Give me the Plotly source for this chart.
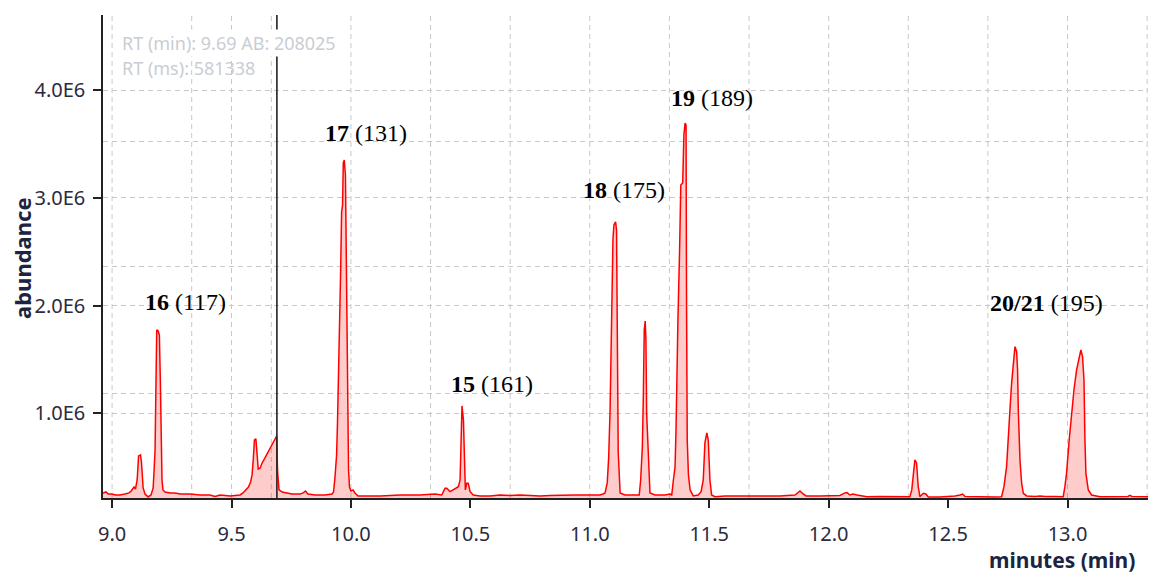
import plotly.graph_objects as go

# Total ion chromatogram trace: retention time (min) and abundance (x 1e6 counts)
rt_min = [
    8.962, 8.975, 8.983, 9.000, 9.013, 9.033, 9.054, 9.071, 9.080, 9.088,
    9.092, 9.098, 9.105, 9.111, 9.119, 9.123, 9.126, 9.130, 9.138, 9.151,
    9.163, 9.172, 9.176, 9.180, 9.184, 9.187, 9.193, 9.198, 9.202, 9.206,
    9.209, 9.213, 9.222, 9.243, 9.264, 9.285, 9.327, 9.368, 9.410, 9.431,
    9.452, 9.494, 9.536, 9.548, 9.561, 9.571, 9.580, 9.586, 9.591, 9.596,
    9.602, 9.606, 9.612, 9.620, 9.628, 9.640, 9.653, 9.666, 9.678, 9.689,
    9.693, 9.699, 9.712, 9.728, 9.753, 9.787, 9.800, 9.810, 9.820, 9.850,
    9.892, 9.921, 9.927, 9.933, 9.940, 9.944, 9.948, 9.952, 9.957, 9.961,
    9.965, 9.968, 9.972, 9.977, 9.980, 9.984, 9.987, 9.990, 9.994, 10.000,
    10.009, 10.017, 10.030, 10.122, 10.206, 10.289, 10.352, 10.380, 10.394, 10.401,
    10.415, 10.427, 10.436, 10.450, 10.457, 10.461, 10.465, 10.471, 10.475, 10.479,
    10.485, 10.491, 10.499, 10.512, 10.540, 10.582, 10.624, 10.666, 10.708, 10.750,
    10.792, 10.833, 10.875, 10.938, 11.001, 11.043, 11.055, 11.064, 11.073, 11.079,
    11.085, 11.089, 11.093, 11.097, 11.101, 11.108, 11.112, 11.115, 11.119, 11.127,
    11.147, 11.168, 11.198, 11.207, 11.213, 11.220, 11.224, 11.228, 11.232, 11.235,
    11.238, 11.245, 11.252, 11.273, 11.315, 11.336, 11.343, 11.350, 11.357, 11.361,
    11.364, 11.369, 11.376, 11.381, 11.389, 11.394, 11.399, 11.403, 11.405, 11.408,
    11.413, 11.420, 11.433, 11.454, 11.466, 11.475, 11.482, 11.490, 11.496, 11.503,
    11.510, 11.524, 11.566, 11.629, 11.713, 11.796, 11.859, 11.872, 11.880, 11.888,
    11.905, 11.964, 12.047, 12.068, 12.077, 12.089, 12.102, 12.119, 12.160, 12.215,
    12.299, 12.340, 12.348, 12.354, 12.361, 12.368, 12.375, 12.382, 12.396, 12.407,
    12.417, 12.466, 12.508, 12.529, 12.550, 12.561, 12.571, 12.634, 12.696, 12.724,
    12.734, 12.745, 12.752, 12.759, 12.766, 12.773, 12.780, 12.787, 12.791, 12.794,
    12.801, 12.808, 12.815, 12.829, 12.864, 12.885, 12.906, 12.947, 12.982, 12.989,
    12.996, 13.007, 13.017, 13.027, 13.038, 13.049, 13.056, 13.063, 13.069, 13.073,
    13.077, 13.087, 13.101, 13.136, 13.199, 13.253, 13.261, 13.270, 13.337,
]
abundance_e6 = [
    0.262, 0.271, 0.252, 0.252, 0.243, 0.243, 0.252, 0.262, 0.280, 0.308,
    0.317, 0.299, 0.382, 0.605, 0.614, 0.549, 0.429, 0.308, 0.252, 0.225,
    0.243, 0.308, 0.475, 0.661, 1.310, 1.774, 1.765, 1.727, 1.310, 0.753,
    0.382, 0.290, 0.271, 0.262, 0.262, 0.252, 0.252, 0.243, 0.243, 0.229,
    0.243, 0.234, 0.243, 0.262, 0.290, 0.317, 0.364, 0.429, 0.568, 0.753,
    0.763, 0.614, 0.484, 0.494, 0.540, 0.587, 0.642, 0.698, 0.753, 0.790,
    0.457, 0.290, 0.271, 0.262, 0.252, 0.252, 0.262, 0.280, 0.252, 0.243,
    0.243, 0.252, 0.271, 0.401, 0.614, 0.939, 1.310, 1.774, 2.330, 2.868,
    2.933, 3.323, 3.351, 3.212, 2.423, 1.495, 0.753, 0.475, 0.317, 0.280,
    0.290, 0.262, 0.234, 0.234, 0.243, 0.243, 0.252, 0.243, 0.305, 0.305,
    0.274, 0.290, 0.305, 0.320, 0.382, 0.753, 1.069, 0.939, 0.540, 0.290,
    0.352, 0.352, 0.274, 0.243, 0.234, 0.234, 0.243, 0.239, 0.243, 0.239,
    0.234, 0.239, 0.243, 0.243, 0.243, 0.243, 0.252, 0.262, 0.355, 0.587,
    1.032, 1.681, 2.238, 2.609, 2.748, 2.776, 2.701, 1.774, 0.642, 0.262,
    0.243, 0.243, 0.243, 0.243, 0.382, 0.688, 1.124, 1.774, 1.857, 1.681,
    1.004, 0.568, 0.262, 0.243, 0.243, 0.252, 0.243, 0.382, 0.503, 0.846,
    1.310, 1.867, 2.516, 3.119, 3.137, 3.583, 3.694, 3.675, 2.052, 0.753,
    0.429, 0.290, 0.234, 0.243, 0.274, 0.382, 0.726, 0.818, 0.753, 0.382,
    0.243, 0.227, 0.234, 0.234, 0.234, 0.234, 0.243, 0.271, 0.280, 0.262,
    0.234, 0.234, 0.239, 0.262, 0.265, 0.243, 0.252, 0.243, 0.227, 0.229,
    0.229, 0.227, 0.290, 0.429, 0.568, 0.540, 0.320, 0.227, 0.259, 0.252,
    0.225, 0.225, 0.229, 0.234, 0.243, 0.252, 0.229, 0.225, 0.225, 0.227,
    0.320, 0.506, 0.816, 1.032, 1.279, 1.495, 1.619, 1.572, 1.403, 1.032,
    0.568, 0.352, 0.259, 0.234, 0.229, 0.234, 0.229, 0.229, 0.227, 0.320,
    0.444, 0.753, 1.001, 1.217, 1.403, 1.526, 1.588, 1.526, 1.310, 0.753,
    0.444, 0.290, 0.243, 0.227, 0.227, 0.229, 0.239, 0.229, 0.227,
]
abundance = [v * 1e6 for v in abundance_e6]

# Peak identification labels (compound number, base ion m/z) and where they sit
peak_ids = ["16", "17", "15", "18", "19", "20/21"]
peak_mz = ["117", "131", "161", "175", "189", "195"]
label_rt = [9.308, 10.063, 10.589, 11.143, 11.510, 12.911]
label_abund = [2.033e6, 3.598e6, 1.273e6, 3.072e6, 3.923e6, 2.021e6]

# Cursor readout
cursor_rt = 9.69
cursor_ab = 208025
cursor_ms = 581338

# Axes
x_range = [8.962, 13.337]
y_range = [0.215e6, 4.696e6]
x_tick_vals = [9.0, 9.5, 10.0, 10.5, 11.0, 11.5, 12.0, 12.5, 13.0]
x_tick_text = ["9.0", "9.5", "10.0", "10.5", "11.0", "11.5", "12.0", "12.5", "13.0"]
y_tick_vals = [1e6, 2e6, 3e6, 4e6]
y_tick_text = ["1.0E6", "2.0E6", "3.0E6", "4.0E6"]
x_grid_vals = [9.0, 9.3333, 9.5, 9.6667, 10.0, 10.3333, 10.6667, 11.0,
               11.3333, 11.6667, 12.0, 12.3333, 12.6667, 13.0, 13.3333]
y_grid_vals = [1.187e6, 2.367e6, 3.527e6]

GRID = "#c8c8c8"
DASH = "5px,4px"
AXIS = "#222222"
TICK_FONT = dict(family="Noto Sans", size=20, color="#2b2b3d")

fig = go.Figure()
fig.add_trace(go.Scatter(
    x=rt_min, y=abundance, mode="lines",
    line=dict(color="#ff0000", width=1.5),
    fill="tozeroy", fillcolor="rgba(255,0,0,0.2)",
    hoverinfo="skip",
))

shapes = [
    dict(type="line", xref="x", yref="paper", x0=g, x1=g, y0=0, y1=1,
         layer="below", line=dict(color=GRID, width=1, dash=DASH))
    for g in x_grid_vals
]
shapes.append(dict(type="line", xref="x", yref="paper", x0=cursor_rt, x1=cursor_rt,
                   y0=0, y1=1, layer="above", line=dict(color=AXIS, width=1.6)))

annotations = [
    dict(x=x, y=y, xref="x", yref="y", text=f"<b>{pid}</b> ({mz})",
         showarrow=False, xanchor="center", yanchor="middle",
         font=dict(family="Liberation Serif", size=24, color="#000000"))
    for pid, mz, x, y in zip(peak_ids, peak_mz, label_rt, label_abund)
]
annotations += [
    dict(x=0.0165, y=0.9414, xref="paper", yref="paper",
         text=f"RT (min): {cursor_rt:.2f} AB: {cursor_ab}", showarrow=False,
         xanchor="left", yanchor="middle", bgcolor="#ffffff",
         font=dict(family="Noto Sans", size=18, color="#c9cdd3")),
    dict(x=0.0165, y=0.8897, xref="paper", yref="paper",
         text=f"RT (ms): {cursor_ms}", showarrow=False,
         xanchor="left", yanchor="middle",
         font=dict(family="Noto Sans", size=18, color="#c9cdd3")),
    dict(x=-0.0775, y=0.497, xref="paper", yref="paper", text="abundance",
         textangle=-90, showarrow=False, xanchor="center", yanchor="middle",
         font=dict(family="Noto Sans", size=22, color="#1b2440", weight="bold")),
    dict(x=0.9885, y=-0.128, xref="paper", yref="paper", text="minutes (min)",
         showarrow=False, xanchor="right", yanchor="middle", borderpad=0,
         font=dict(family="Noto Sans", size=21, color="#1b2440", weight="bold")),
]

fig.update_layout(
    width=1152, height=574,
    margin=dict(l=103, r=4, t=15, b=76, pad=0),
    paper_bgcolor="#ffffff", plot_bgcolor="#ffffff",
    showlegend=False,
    shapes=shapes, annotations=annotations,
    xaxis=dict(
        range=x_range, tickmode="array", tickvals=x_tick_vals, ticktext=x_tick_text,
        ticks="outside", ticklen=8, tickwidth=1.5, tickcolor=AXIS,
        showline=True, linecolor=AXIS, linewidth=1.5,
        showgrid=False, zeroline=False, tickfont=TICK_FONT, ticklabelstandoff=9,
    ),
    yaxis=dict(
        range=y_range, tickmode="array", tickvals=y_tick_vals, ticktext=y_tick_text,
        ticks="outside", ticklen=8, tickwidth=1.5, tickcolor=AXIS,
        showline=True, linecolor=AXIS, linewidth=1.5,
        showgrid=True, gridcolor=GRID, gridwidth=1, griddash=DASH,
        zeroline=False, tickfont=TICK_FONT, ticklabelstandoff=4,
        minor=dict(tickmode="array", tickvals=y_grid_vals, ticks="",
                   showgrid=True, gridcolor=GRID, gridwidth=1, griddash=DASH),
    ),
)

fig.write_html("out.html")
